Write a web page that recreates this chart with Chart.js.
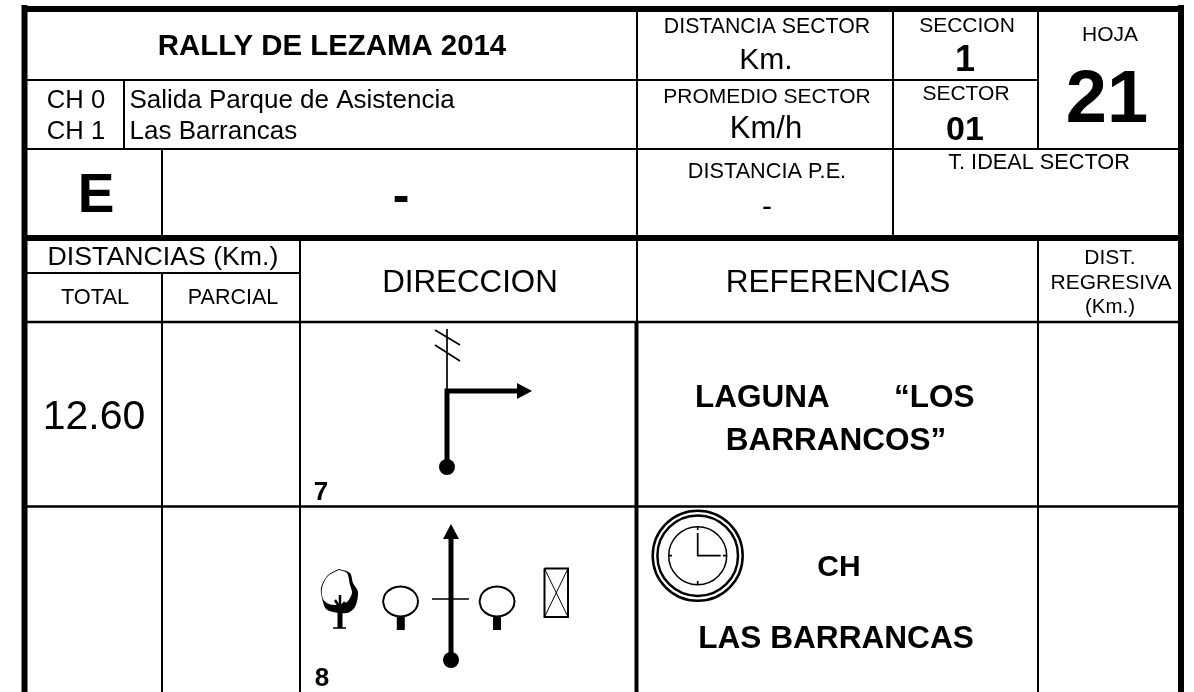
<!DOCTYPE html>
<html>
<head>
<meta charset="utf-8">
<title>Rally de Lezama 2014</title>
<script src="https://cdn.jsdelivr.net/npm/chart.js@4"></script>
<style>
    html, body { margin: 0; padding: 0; background: #fff; }
    canvas { display: block; }
</style>
</head>
<body>
<canvas id="sheet" width="1194" height="692"></canvas>
<script>
// form grid, each row is x0, y0, x1, y1 in sheet units
const heavyRules = [
    [24.5, 5, 24.5, 692], [22, 9, 1184, 9], [22, 238, 1184, 238], [1181, 5, 1181, 692]
];
const columnRules = [[636.5, 322, 636.5, 692]];
const rowRules = [[24, 322, 1181, 322], [24, 506.5, 1181, 506.5]];
const thinRules = [
    [24, 80, 1038, 80], [24, 149, 1181, 149], [24, 273, 300, 273],
    [637, 9, 637, 322], [893, 9, 893, 238], [1038, 9, 1038, 149], [1038, 238, 1038, 692],
    [124, 80, 124, 149], [162, 149, 162, 238], [162, 273, 162, 692], [300, 238, 300, 692]
];

// road symbols
const roadThick = [
    [447, 391, 447, 467], [444.5, 391, 519, 391], [451, 535, 451, 660]
];
const roadThin = [
    [447, 329, 447, 391], [435, 330, 460, 345], [435, 345, 460, 361], [432, 599, 469, 599]
];
const arrowHeads = [
    [[517, 383], [532, 391], [517, 399], [517, 383]],
    [[443, 539], [451, 524], [459, 539], [443, 539]]
];
const roadDots = [[447, 467], [451, 660]];
const treeLeft = [[383, 601.5], [385.3, 594], [391.8, 588.5], [400.5, 586.5], [409.2, 588.5], [415.7, 594], [418, 601.5], [415.7, 609], [409.2, 614.5], [400.5, 616.5], [391.8, 614.5], [385.3, 609], [383, 601.5]];
const treeRight = [[479.5, 601.5], [481.8, 594], [488.3, 588.5], [497, 586.5], [505.7, 588.5], [512.2, 594], [514.5, 601.5], [512.2, 609], [505.7, 614.5], [497, 616.5], [488.3, 614.5], [481.8, 609], [479.5, 601.5]];
const treeTrunks = [[400.8, 617, 400.8, 630], [497, 617, 497, 630]];
const houseBox = [[544.5, 568.5], [568, 568.5], [568, 617], [544.5, 617], [544.5, 568.5]];
const houseCross = [[544.5, 568.5, 568, 617], [568, 568.5, 544.5, 617]];
const crownShadow = [[339, 569], [350, 573], [353, 583], [358, 592], [355, 607], [347, 613], [333, 612], [326, 609], [323, 602], [321, 588], [328, 575], [339, 569]];
const crownWhite = [[339, 570], [347, 573], [350, 585], [352, 593], [347, 602], [338, 605], [329, 604], [323, 599], [322, 588], [328, 576], [339, 570]];
const treeStem = [[340, 608, 340, 628]];
const treeBranches = [[340, 595, 340, 610], [335, 600, 340, 608], [345, 602, 340, 608]];
const treeBase = [[333, 628, 346, 628]];
const clockRings = [45, 40.3, 29];
const clockCentre = [697.7, 555.7];
const clockHands = [[697.7, 533, 697.7, 556], [697, 555.7, 720.7, 555.7], [697.7, 526, 697.7, 530], [697.7, 581, 697.7, 585], [668, 555.7, 672, 555.7], [723, 555.7, 727, 555.7]];

// text
const labelTexts = [
    "RALLY DE LEZAMA 2014", "CH 0", "CH 1", "Salida Parque de Asistencia", "Las Barrancas", "E", "-",
    "DISTANCIA SECTOR", "Km.", "SECCION", "1", "HOJA", "21", "PROMEDIO SECTOR", "Km/h", "SECTOR", "01",
    "DISTANCIA P.E.", "-", "T. IDEAL SECTOR", "DISTANCIAS (Km.)", "TOTAL", "PARCIAL", "DIRECCION", "REFERENCIAS",
    "DIST.", "REGRESIVA", "(Km.)", "12.60", "LAGUNA", "“LOS", "BARRANCOS”", "7", "8", "CH", "LAS BARRANCAS"
];
const labelX = [
    332, 76, 76, 129.5, 129.5, 96, 401,
    767, 766, 967, 965, 1110, 1107, 767, 766, 966, 965,
    767, 767, 1039, 163, 95, 233, 470, 838,
    1110, 1111, 1110, 94, 695, 894, 836, 321, 322, 839, 836
];
const labelY = [
    55, 108, 139, 108, 139, 212, 212,
    33, 69, 32, 71, 41, 122, 103, 138, 100, 140,
    178, 216, 169, 265, 304, 304, 292, 292,
    264, 289, 313, 429, 407, 407, 450, 500, 686, 576, 648
];
const labelFonts = [
    "bold 29.4px", "25.6px", "25.6px", "26px", "26px", "bold 55px", "bold 50px",
    "21.3px", "30px", "21px", "bold 36px", "21px", "bold 74px", "21px", "31px", "21px", "bold 34px",
    "21.7px", "30px", "21.7px", "26.7px", "21.8px", "21.5px", "31.3px", "31.6px",
    "21px", "21px", "20.5px", "41px", "bold 31.5px", "bold 31.5px", "bold 31.5px", "bold 26px", "bold 26px", "bold 30px", "bold 31.6px"
];
const leftAligned = ["Salida Parque de Asistencia", "Las Barrancas", "LAGUNA", "“LOS"];

const toPoints = (rows) => rows.flatMap((r) => [{ x: r[0], y: r[1] }, { x: r[2], y: r[3] }, { x: null, y: null }]);
const toPath = (rows) => rows.map((r) => ({ x: r[0], y: r[1] }));

const lineSet = (rows, width) => ({
    data: toPoints(rows), showLine: true, borderColor: "#000", borderWidth: width,
    pointRadius: 0, tension: 0, spanGaps: false, clip: false
});
const shapeSet = (rows, fillColour, edge, tension) => ({
    data: toPath(rows), showLine: true, borderColor: "#000", borderWidth: edge,
    backgroundColor: fillColour, fill: "shape", pointRadius: 0, tension: tension, clip: false
});
const markerSet = (rows, radius, fillColour, edge) => ({
    data: toPath(rows), showLine: false, pointStyle: "circle", pointRadius: radius,
    pointBackgroundColor: fillColour, pointBorderColor: "#000", pointBorderWidth: edge, clip: false
});

const datasets = [
    lineSet(thinRules, 2),
    lineSet(rowRules, 2.5),
    lineSet(columnRules, 4),
    lineSet(heavyRules, 6),
    lineSet(roadThin, 1.7),
    lineSet(roadThick, 5),
    shapeSet(arrowHeads[0], "#000", 0, 0),
    shapeSet(arrowHeads[1], "#000", 0, 0),
    markerSet(roadDots, 8, "#000", 0),
    shapeSet(treeLeft, "#fff", 2, 0.35),
    shapeSet(treeRight, "#fff", 2, 0.35),
    lineSet(treeTrunks, 8),
    shapeSet(houseBox, "rgba(0,0,0,0)", 2, 0),
    lineSet(houseCross, 1),
    shapeSet(crownShadow, "#000", 0, 0.3),
    shapeSet(crownWhite, "#fff", 0, 0.3),
    lineSet(treeStem, 5),
    lineSet(treeBranches, 2.5),
    lineSet(treeBase, 1.5),
    markerSet([clockCentre], clockRings[0], "rgba(0,0,0,0)", 2.5),
    markerSet([clockCentre], clockRings[1], "rgba(0,0,0,0)", 2.5),
    markerSet([clockCentre], clockRings[2], "rgba(0,0,0,0)", 1.5),
    lineSet(clockHands, 1.7)
];
datasets.forEach((d, i) => { d.order = datasets.length - i; });

const sheetText = {
    id: "sheetText",
    afterDatasetsDraw(chart) {
        const { ctx, scales } = chart;
        ctx.save();
        ctx.fillStyle = "#000";
        ctx.textBaseline = "alphabetic";
        labelTexts.forEach((text, i) => {
            ctx.font = `${labelFonts[i]} "Liberation Sans", Arial, sans-serif`;
            ctx.textAlign = leftAligned.includes(text) ? "left" : "center";
            ctx.fillText(text, scales.x.getPixelForValue(labelX[i]), scales.y.getPixelForValue(labelY[i]));
        });
        ctx.restore();
    }
};

new Chart(document.getElementById("sheet"), {
    type: "scatter",
    data: { datasets },
    options: {
        responsive: false,
        animation: false,
        layout: { padding: 0, autoPadding: false },
        plugins: { legend: { display: false }, tooltip: { enabled: false } },
        scales: {
            x: { type: "linear", min: 0, max: 1194, display: false },
            y: { type: "linear", min: 0, max: 692, reverse: true, display: false }
        }
    },
    plugins: [sheetText]
});
</script>
</body>
</html>
